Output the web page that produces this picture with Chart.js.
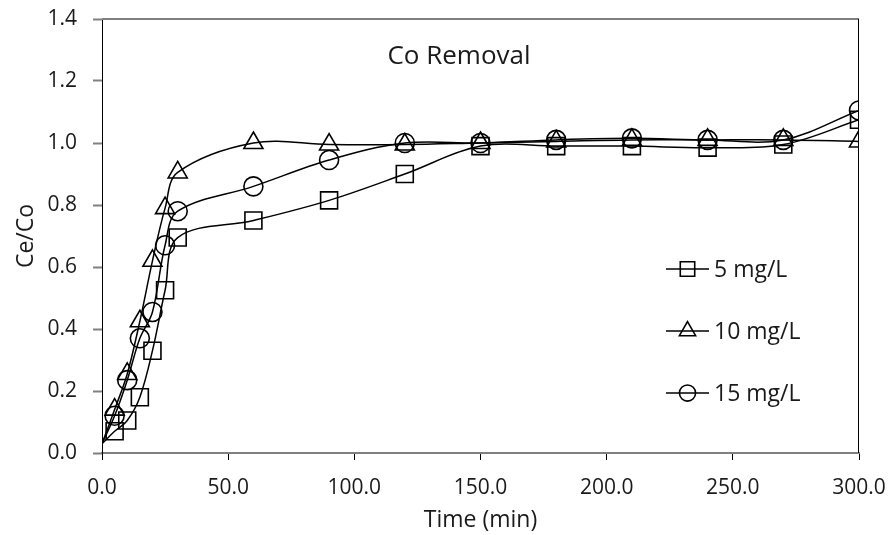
<!DOCTYPE html>
<html>
<head>
<meta charset="utf-8">
<script src="https://cdn.jsdelivr.net/npm/chart.js@4.4.1/dist/chart.umd.min.js"></script>
<style>
  html, body { margin: 0; padding: 0; background: #fff; }
  #wrap { width: 891px; height: 535px; }
</style>
</head>
<body>
<div id="wrap"><canvas id="chart"></canvas></div>
<script>
// Temps de contact (min) - le point 0 n'a pas de marqueur, le trait part de l'axe
const times = [0, 5, 10, 15, 20, 25, 30, 60, 90, 120, 150, 180, 210, 240, 270, 300];
// Ce/Co
const co5  = [0.03, 0.07, 0.105, 0.18, 0.33, 0.525, 0.695, 0.75, 0.815, 0.90, 0.99, 0.99, 0.99, 0.985, 0.995, 1.075];
const co10 = [0.03, 0.14, 0.255, 0.425, 0.62, 0.79, 0.905, 1.0, 0.995, 0.995, 1.0, 1.005, 1.01, 1.01, 1.01, 1.005];
const co15 = [0.03, 0.12, 0.235, 0.37, 0.455, 0.67, 0.78, 0.86, 0.945, 1.0, 1.0, 1.01, 1.015, 1.01, 1.01, 1.105];
const seriesLabels = ['5 mg/L', '10 mg/L', '15 mg/L'];
const seriesMarkers = ['rect', 'triangle', 'circle'];
const markerSizes = [12, 11, 9.5];
const chartTitle = 'Co Removal';
const xTitle = 'Time (min)';
const yTitle = 'Ce/Co';

const FONT = "'Open Sans', sans-serif";
const TEXT = '#1a1a1a';
Chart.defaults.font.family = FONT;
Chart.defaults.color = TEXT;

const allSeries = [co5, co10, co15];
const datasets = allSeries.map((vals, i) => ({
    label: seriesLabels[i],
    data: times.map((t, k) => ({ x: t, y: vals[k] })),
    borderColor: '#000',
    borderWidth: 1.5,
    tension: 0.35,
    pointStyle: seriesMarkers[i],
    pointRadius: ctx => (ctx.dataIndex === 0 ? 0 : markerSizes[i]),
    pointBorderColor: '#000',
    pointBorderWidth: 1.6,
    pointBackgroundColor: 'rgba(0,0,0,0)'
}));

// cadre haut/droit, titre et légende dessinés dans la zone du graphe
const insidePlugin = {
    id: 'inside',
    afterDraw(chart) {
        const { ctx, chartArea: a } = chart;
        ctx.save();
        ctx.strokeStyle = '#808080';
        ctx.lineWidth = 2;
        ctx.beginPath();
        ctx.moveTo(a.left, a.top);
        ctx.lineTo(a.right, a.top);
        ctx.stroke();
        ctx.strokeStyle = '#000';
        ctx.lineWidth = 1;
        ctx.beginPath();
        ctx.moveTo(Math.round(a.right) - 0.5, a.top);
        ctx.lineTo(Math.round(a.right) - 0.5, a.bottom);
        ctx.stroke();

        // titre
        ctx.fillStyle = TEXT;
        ctx.font = '26px ' + FONT;
        ctx.textAlign = 'center';
        ctx.textBaseline = 'middle';
        ctx.fillText(chartTitle, 459, 57);

        // légende
        ctx.font = '23px ' + FONT;
        ctx.textAlign = 'left';
        chart.data.datasets.forEach((ds, i) => {
            const y = 269 + i * 62;
            ctx.strokeStyle = '#000';
            ctx.lineWidth = 1.5;
            ctx.beginPath();
            ctx.moveTo(666, y);
            ctx.lineTo(709, y);
            ctx.stroke();
            ctx.fillStyle = 'rgba(0,0,0,0)';
            ctx.lineWidth = 1.6;
            Chart.helpers.drawPoint(ctx, {
                pointStyle: seriesMarkers[i],
                radius: markerSizes[i] * 0.85,
                rotation: 0,
                borderWidth: 1.6
            }, 687.5, y);
            ctx.fillStyle = TEXT;
            ctx.fillText(ds.label, 714, y + 1);
        });
        ctx.restore();
    }
};

new Chart(document.getElementById('chart'), {
    type: 'line',
    data: { datasets },
    options: {
        responsive: true,
        maintainAspectRatio: false,
        animation: false,
        layout: { padding: { top: 19, right: 32, left: 0, bottom: 0 } },
        plugins: {
            legend: { display: false },
            tooltip: { enabled: false }
        },
        scales: {
            x: {
                type: 'linear',
                min: 0,
                max: 300,
                afterFit: s => { s.height = 82; s.paddingLeft = 0; s.paddingRight = 0; },
                ticks: {
                    stepSize: 50,
                    padding: 15,
                    maxRotation: 0,
                    font: { size: 21 },
                    callback: v => v.toFixed(1)
                },
                grid: { drawOnChartArea: false, tickLength: 7, tickColor: '#000', tickWidth: 1 },
                border: { color: '#808080', width: 2 },
                title: { display: true, text: xTitle, font: { size: 23 }, padding: { top: 0, bottom: 1 } }
            },
            y: {
                min: 0,
                max: 1.4,
                afterFit: s => { s.width = 102; s.paddingTop = 0; s.paddingBottom = 0; },
                ticks: {
                    stepSize: 0.2,
                    padding: 16,
                    font: { size: 21 },
                    callback: v => v.toFixed(1)
                },
                grid: { drawOnChartArea: false, tickLength: 9, tickColor: '#808080', tickWidth: 2 },
                border: { color: '#000', width: 1 },
                title: { display: true, text: yTitle, font: { size: 23 }, padding: { top: 13, bottom: 0 } }
            }
        }
    },
    plugins: [insidePlugin]
});
</script>
</body>
</html>
